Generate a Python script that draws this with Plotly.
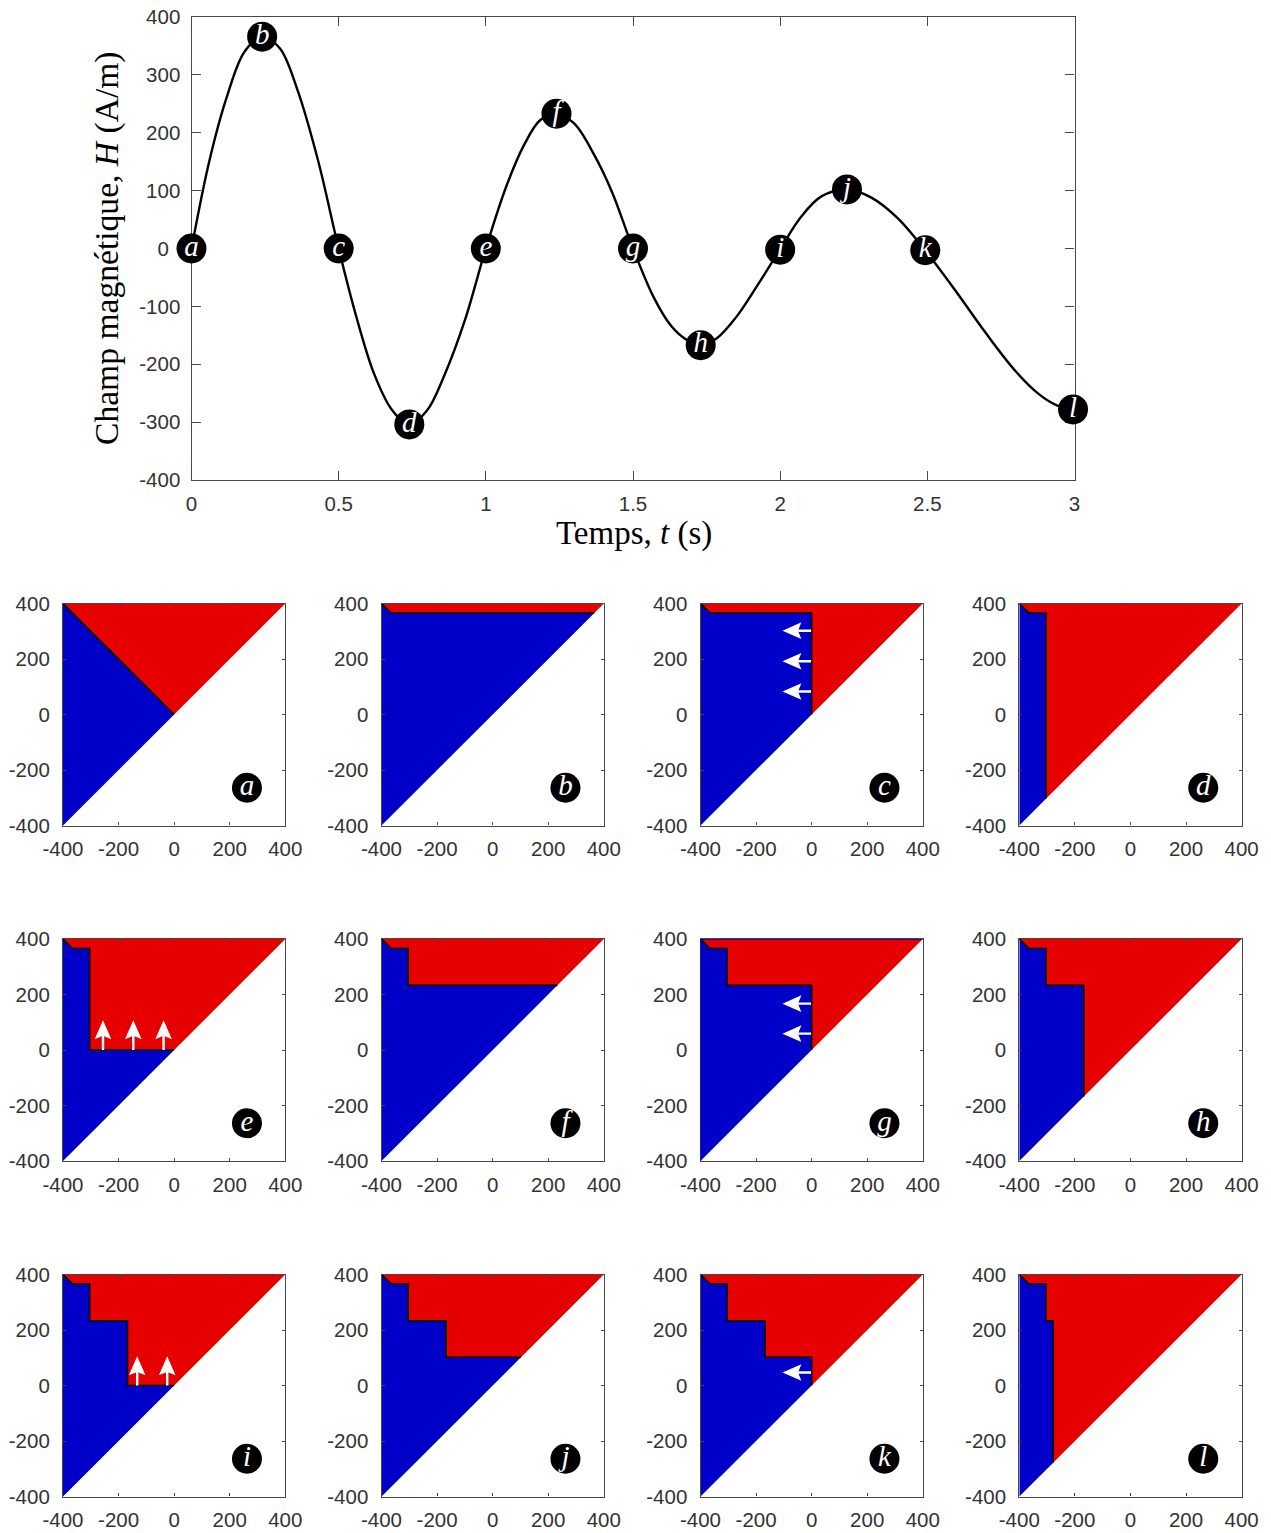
import plotly.graph_objects as go

# ---- data ----
curve_t = [0, 0.06, 0.12, 0.18, 0.24, 0.30, 0.36, 0.43, 0.5, 0.56, 0.62, 0.68, 0.74, 0.80, 0.86, 0.93, 1.0,
           1.07, 1.13, 1.185, 1.24, 1.30, 1.37, 1.43, 1.5, 1.57, 1.63, 1.68, 1.73, 1.785, 1.85, 1.92, 2.0,
           2.07, 2.14, 2.227, 2.31, 2.40, 2.5, 2.6, 2.7, 2.8, 2.88, 2.94, 2.995]
curve_h = [0, 150, 262, 340, 366, 346, 274, 152, 0, -118, -216, -278, -304, -280, -218, -122, 0,
           108, 179, 222, 233, 216, 160, 96, 0, -84, -134, -157, -167, -155, -119, -66, -1,
           54, 90, 102, 88, 52, -8, -76, -147, -212, -252, -271, -278]

point_labels = ["a", "b", "c", "d", "e", "f", "g", "h", "i", "j", "k", "l"]
point_t = [0, 0.24, 0.5, 0.74, 1.0, 1.24, 1.5, 1.73, 2.0, 2.227, 2.493, 2.995]
point_h = [0, 366, 0, -304, 0, 233, 0, -167, -2, 102, -3, -278]

time_ticks = [0, 0.5, 1, 1.5, 2, 2.5, 3]
time_tick_text = ["0", "0.5", "1", "1.5", "2", "2.5", "3"]
field_ticks = [-400, -300, -200, -100, 0, 100, 200, 300, 400]
field_tick_text = ["-400", "-300", "-200", "-100", "0\u00a0\u00a0", "100", "200", "300", "400"]
panel_ticks = [-400, -200, 0, 200, 400]
panel_tick_text = ["-400", "-200", "0", "200", "400"]

# staircase boundary of each hysteresis panel (x, y), from the top-left corner to the diagonal
stair_a_x = [-400, 0]
stair_a_y = [400, 0]
stair_b_x = [-400, -366, 366]
stair_b_y = [400, 366, 366]
stair_c_x = [-400, -366, 0, 0]
stair_c_y = [400, 366, 366, 0]
stair_d_x = [-400, -366, -304, -304]
stair_d_y = [400, 366, 366, -304]
stair_e_x = [-400, -366, -304, -304, 0]
stair_e_y = [400, 366, 366, 0, 0]
stair_f_x = [-400, -366, -304, -304, 233]
stair_f_y = [400, 366, 366, 233, 233]
stair_g_x = [-400, -366, -304, -304, 0, 0]
stair_g_y = [400, 366, 366, 233, 233, 0]
stair_h_x = [-400, -366, -304, -304, -168, -168]
stair_h_y = [400, 366, 366, 233, 233, -168]
stair_i_x = [-400, -366, -304, -304, -168, -168, 0]
stair_i_y = [400, 366, 366, 233, 233, 0, 0]
stair_j_x = [-400, -366, -304, -304, -168, -168, 102]
stair_j_y = [400, 366, 366, 233, 233, 102, 102]
stair_k_x = [-400, -366, -304, -304, -168, -168, 0, 0]
stair_k_y = [400, 366, 366, 233, 233, 102, 102, 0]
stair_l_x = [-400, -366, -304, -304, -278, -278]
stair_l_y = [400, 366, 366, 233, 233, -278]

stairs_x = [stair_a_x, stair_b_x, stair_c_x, stair_d_x, stair_e_x, stair_f_x,
            stair_g_x, stair_h_x, stair_i_x, stair_j_x, stair_k_x, stair_l_x]
stairs_y = [stair_a_y, stair_b_y, stair_c_y, stair_d_y, stair_e_y, stair_f_y,
            stair_g_y, stair_h_y, stair_i_y, stair_j_y, stair_k_y, stair_l_y]

# white arrows: (panel, tail x, tail y, head x, head y)
arrows = [
    ("c", -2, 302, -105, 302), ("c", -2, 192, -105, 192), ("c", -2, 83, -105, 83),
    ("e", -256, 0, -256, 107), ("e", -147, 0, -147, 107), ("e", -38, 0, -38, 107),
    ("g", -2, 167, -105, 167), ("g", -2, 59, -105, 59),
    ("i", -133, 0, -133, 105), ("i", -25, 0, -25, 105),
    ("k", -2, 47, -105, 47),
]
badge_x = 262
badge_y = -264

# ---- styles ----
BLUE = "#0000C8"
RED = "#E60000"
AXIS = "#484848"
TEXT = "#333333"
SANS = "Liberation Sans"
SERIF = "Liberation Serif"
W, H = 1271, 1533
HEAD_LEN, HEAD_HALF, HEAD_NOTCH = 68, 30, 56  # arrow head shape, in axis units


def dom_x(a, b):
    return [a / W, b / W]


def dom_y(top, bottom):
    return [1 - bottom / H, 1 - top / H]


fig = go.Figure()
layout = {}


def axis(anchor, domain, vals, text, rng, ticklen, standoff, lw=1.2):
    return dict(
        anchor=anchor, domain=domain, range=rng, tickmode="array", tickvals=vals, ticktext=text,
        ticks="inside", ticklen=ticklen, tickwidth=1, tickcolor=AXIS, showline=True, linecolor=AXIS,
        linewidth=lw, mirror="ticks", showgrid=False, zeroline=False, automargin=False,
        tickfont=dict(family=SANS, size=20.5, color=TEXT), ticklabelstandoff=standoff,
    )


# top chart
layout["xaxis"] = axis("y", dom_x(191.5, 1074.5), time_ticks, time_tick_text, [0, 3], 9, 5)
layout["yaxis"] = axis("x", dom_y(17, 480), field_ticks, field_tick_text, [-400, 400], 9, 6)
layout["xaxis"]["layer"] = "below traces"
layout["yaxis"]["layer"] = "below traces"

annotations = [
    dict(text="Temps, <i>t</i> (s)", xref="paper", yref="paper", x=633.5 / W, y=1 - 533 / H, showarrow=False,
         xanchor="center", yanchor="middle", font=dict(family=SERIF, size=33, color="black")),
    dict(text="Champ magnétique, <i>H</i> (A/m)", xref="paper", yref="paper", x=107 / W, y=1 - 248 / H, showarrow=False,
         textangle=-90, xanchor="center", yanchor="middle", font=dict(family=SERIF, size=33.6, color="black")),
]

fig.add_trace(go.Scatter(x=curve_t, y=curve_h, mode="lines", line=dict(color="black", width=2.4, shape="spline", smoothing=1.0),
                         xaxis="x", yaxis="y", showlegend=False, cliponaxis=False))
fig.add_trace(go.Scatter(x=point_t, y=point_h, mode="markers+text", text=point_labels, textposition="middle center",
                         marker=dict(color="black", size=30),
                         textfont=dict(family=SERIF, size=29, color="white", style="italic"),
                         xaxis="x", yaxis="y", showlegend=False, cliponaxis=False))

# panels
lefts = [63, 381.5, 700.5, 1019.3]
tops = [603.5, 939, 1274.5]
PW, PH = 222.3, 222
for i, name in enumerate(point_labels):
    n = i + 2
    row, col = i // 4, i % 4
    xa, ya = f"x{n}", f"y{n}"
    l, t = lefts[col], tops[row]
    layout[f"xaxis{n}"] = axis(ya, dom_x(l, l + PW), panel_ticks, panel_tick_text, [-400, 400], 3, 5)
    layout[f"yaxis{n}"] = axis(xa, dom_y(t, t + PH), panel_ticks, panel_tick_text, [-400, 400], 3, 8)
    sx, sy = stairs_x[i], stairs_y[i]
    fig.add_trace(go.Scatter(x=sx + [-400], y=sy + [-400], fill="toself", fillcolor=BLUE, mode="none",
                             xaxis=xa, yaxis=ya, showlegend=False))
    fig.add_trace(go.Scatter(x=sx + [400], y=sy + [400], fill="toself", fillcolor=RED, mode="none",
                             xaxis=xa, yaxis=ya, showlegend=False))
    fig.add_trace(go.Scatter(x=sx, y=sy, mode="lines", line=dict(color="black", width=1.6),
                             xaxis=xa, yaxis=ya, showlegend=False))
    if name == "g":
        layout[f"xaxis{n}"]["layer"] = "below traces"
        layout[f"yaxis{n}"]["layer"] = "below traces"
        fig.add_trace(go.Scatter(x=[-400, -400, 400], y=[-400, 400, 400], mode="lines",
                                 line=dict(color=BLUE, width=1.3), cliponaxis=False,
                                 xaxis=xa, yaxis=ya, showlegend=False))
    fig.add_trace(go.Scatter(x=[badge_x], y=[badge_y], mode="markers+text", text=[name], textposition="middle center",
                             marker=dict(color="black", size=30),
                             textfont=dict(family=SERIF, size=29, color="white", style="italic"),
                             xaxis=xa, yaxis=ya, showlegend=False))
    for p, tx, ty, hx, hy in arrows:
        if p != name:
            continue
        if ty == hy:  # horizontal arrow pointing left
            head_x = [hx, hx + HEAD_LEN, hx + HEAD_NOTCH, hx + HEAD_LEN, hx]
            head_y = [hy, hy + HEAD_HALF, hy, hy - HEAD_HALF, hy]
        else:  # vertical arrow pointing up
            head_x = [hx, hx + HEAD_HALF, hx, hx - HEAD_HALF, hx]
            head_y = [hy, hy - HEAD_LEN, hy - HEAD_NOTCH, hy - HEAD_LEN, hy]
        fig.add_trace(go.Scatter(x=[tx, head_x[2]], y=[ty, head_y[2]], mode="lines",
                                 line=dict(color="white", width=2.4), xaxis=xa, yaxis=ya, showlegend=False))
        fig.add_trace(go.Scatter(x=head_x, y=head_y, mode="none", fill="toself", fillcolor="white",
                                 xaxis=xa, yaxis=ya, showlegend=False))

fig.update_layout(width=W, height=H, margin=dict(l=0, r=0, t=0, b=0), autosize=False, paper_bgcolor="white",
                  plot_bgcolor="white", showlegend=False, annotations=annotations, **layout)
fig.write_html("out.html", config={"displayModeBar": False},
               post_script="document.body.style.margin='0';document.body.style.overflow='hidden';")
